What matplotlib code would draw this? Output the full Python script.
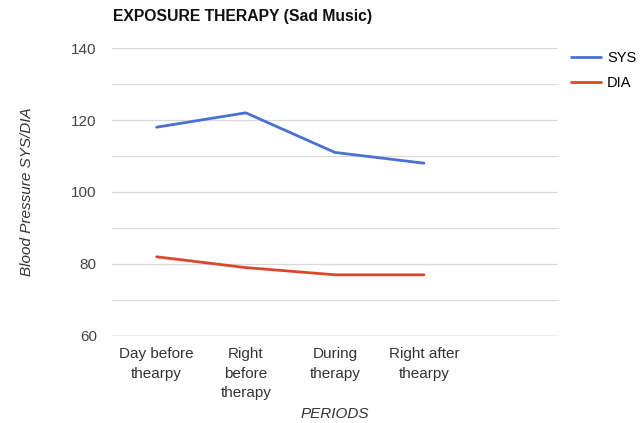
import matplotlib
matplotlib.use("Agg")
import matplotlib.pyplot as plt
from matplotlib.ticker import MultipleLocator

periods = ["Day before\nthearpy", "Right\nbefore\ntherapy", "During\ntherapy", "Right after\nthearpy"]
sys_values = [118, 122, 111, 108]
dia_values = [82, 79, 77, 77]
y_ticks = [60, 80, 100, 120, 140]

plt.rcParams["font.family"] = ["Liberation Sans", "DejaVu Sans"]

fig = plt.figure(figsize=(6.44, 4.23), dpi=100)
ax = fig.add_axes([0.174, 0.2057, 0.692, 0.6808])

x = list(range(len(periods)))
ax.plot(x, sys_values, color="#4a70d2", lw=2, label="SYS", solid_capstyle="round")
ax.plot(x, dia_values, color="#d9482b", lw=2, label="DIA", solid_capstyle="round")

ax.set_xlim(-0.5, 4.5)
ax.set_ylim(60, 140)
ax.set_yticks(y_ticks)
ax.yaxis.set_minor_locator(MultipleLocator(10))
ax.grid(True, which="both", axis="y", color="#d9d9d9", lw=0.9)
ax.set_axisbelow(True)
ax.set_xticks(x)
ax.set_xticklabels(periods, fontsize=11, color="#333333", linespacing=1.5)
ax.tick_params(axis="both", which="both", length=0)
ax.tick_params(axis="x", pad=8)
ax.tick_params(axis="y", labelsize=11, labelcolor="#444444", pad=11)
for s in ax.spines.values():
    s.set_visible(False)
ax.axhline(60, color="#c0c0c0", lw=1)

ax.set_ylabel("Blood Pressure SYS/DIA", fontsize=11, style="italic", color="#333333", labelpad=27)
ax.set_xlabel("PERIODS", fontsize=11, style="italic", color="#333333", labelpad=5)

fig.text(0.1755, 0.96, "EXPOSURE THERAPY (Sad Music)", fontsize=11.3, fontweight="bold",
         color="#111111", ha="left", va="center")

fig.legend(loc="upper left", bbox_to_anchor=(0.877, 0.893), frameon=False, fontsize=10.5,
           handlelength=2.1, handletextpad=0.4, labelspacing=0.75, borderaxespad=0)

fig.savefig("out.png", dpi=100)
